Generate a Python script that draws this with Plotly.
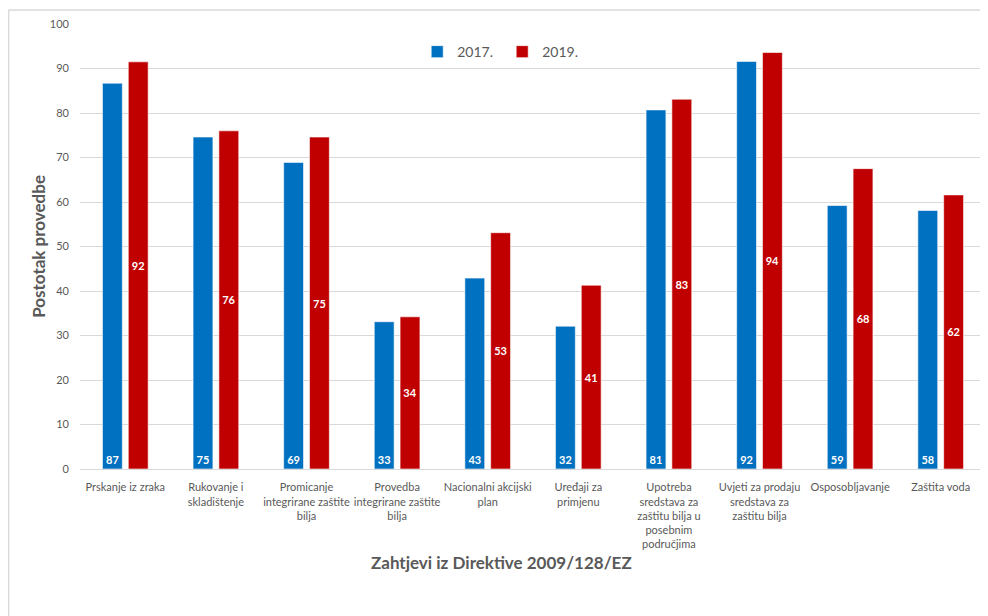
import plotly.graph_objects as go

categories = [
    "Prskanje iz zraka",
    "Rukovanje i<br>skladištenje",
    "Promicanje<br>integrirane zaštite<br>bilja",
    "Provedba<br>integrirane zaštite<br>bilja",
    "Nacionalni akcijski<br>plan",
    "Uređaji za<br>primjenu",
    "Upotreba<br>sredstava za<br>zaštitu bilja u<br>posebnim<br>područjima",
    "Uvjeti za prodaju<br>sredstava za<br>zaštitu bilja",
    "Osposobljavanje",
    "Zaštita voda",
]
values_2017 = [86.7, 74.6, 68.9, 33.1, 42.9, 32.1, 80.7, 91.6, 59.2, 58.1]
values_2019 = [91.5, 76.0, 74.6, 34.2, 53.1, 41.3, 83.1, 93.6, 67.5, 61.6]

BLUE = "#0070C0"
RED = "#C00000"
GREY_TXT = "#595959"
FONT = "Lato"

fig = go.Figure()

fig.add_trace(go.Bar(
    x=categories, y=values_2017, name="2017.",
    marker=dict(color=BLUE, line=dict(color="rgba(255,255,255,0.6)", width=1)),
    text=[f"{v:.0f}" for v in values_2017],
    textposition="inside", insidetextanchor="start",
    textfont=dict(color="white", size=11, family=FONT, weight="bold"),
    textangle=0,
))
fig.add_trace(go.Bar(
    x=categories, y=values_2019, name="2019.",
    marker=dict(color=RED, line=dict(color="rgba(255,255,255,0.6)", width=1)),
    text=[f"{v:.0f}" for v in values_2019],
    textposition="inside", insidetextanchor="middle",
    textfont=dict(color="white", size=11, family=FONT, weight="bold"),
    textangle=0,
))

fig.update_xaxes(
    tickangle=0, tickfont=dict(size=11, color=GREY_TXT, family=FONT),
    showline=True, linecolor="#D9D9D9", linewidth=1, ticks="", ticklabelstandoff=8,
)
fig.update_yaxes(
    range=[0, 100], dtick=10, tickfont=dict(size=11, color=GREY_TXT, family=FONT),
    gridcolor="#D9D9D9", gridwidth=1, zeroline=False, ticks="", ticklabelstandoff=10,
)

fig.add_annotation(
    text="<b>Postotak provedbe</b>", xref="paper", yref="paper",
    x=-0.046, y=0.5, xanchor="center", yanchor="middle",
    textangle=-90, showarrow=False,
    font=dict(size=17, color=GREY_TXT, family=FONT),
)
fig.add_annotation(
    text="<b>Zahtjevi iz Direktive 2009/128/EZ</b>", xref="paper", yref="paper",
    x=0.465, y=-0.211, xanchor="center", yanchor="middle", showarrow=False,
    font=dict(size=17, color=GREY_TXT, family=FONT),
)

# chart frame (left and top edges visible)
fig.add_shape(type="line", xref="paper", yref="paper",
              x0=-0.0788, x1=-0.0788, y0=-0.35, y1=1.0315,
              line=dict(color="#D9D9D9", width=1.5))
fig.add_shape(type="line", xref="paper", yref="paper",
              x0=-0.0788, x1=1.01, y0=1.0315, y1=1.0315,
              line=dict(color="#D9D9D9", width=1.5))

# page body adds an 8px offset, so the figure is sized to fit the window
fig.update_layout(
    width=980, height=608,
    margin=dict(l=72, r=2, t=16, b=147),
    plot_bgcolor="white", paper_bgcolor="white",
    barmode="group", bargap=0.43, bargroupgap=0.23,
    font=dict(family=FONT, color=GREY_TXT),
    legend=dict(
        orientation="h", x=0.466, y=0.937, xanchor="center", yanchor="middle",
        font=dict(size=14, color=GREY_TXT, family=FONT),
        bgcolor="rgba(0,0,0,0)", itemwidth=30, entrywidth=40,
    ),
    showlegend=True,
)

fig.write_html("out.html")
